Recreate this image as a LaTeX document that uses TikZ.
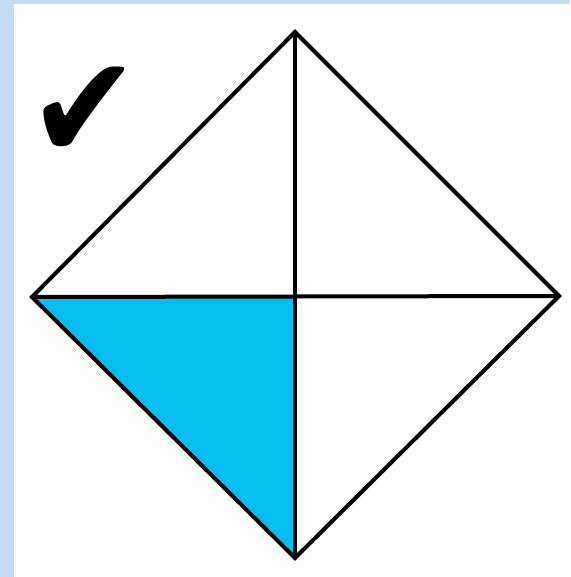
\documentclass[tikz,border=0pt]{standalone}
\usepackage{fontspec}
\usepackage{tikz}
\usetikzlibrary{positioning,calc}
\newfontfamily\symfont{DejaVu Sans}
\definecolor{myframe}{RGB}{197,220,240}
\definecolor{myfill}{RGB}{8,190,240}
\tikzset{
  edge/.style={draw=black,line width=3pt,line join=miter,line cap=round},
  part/.style={fill=myfill},
  tick/.style={font=\symfont\fontsize{100}{100}\selectfont,inner sep=0pt,
    xscale=1.0,yscale=1.1},
}
\begin{document}
\begin{tikzpicture}[x=0.75pt,y=-0.75pt]
  % frame and white sheet
  \fill[myframe] (0,0) rectangle (570,577);
  \fill[white] (14,4) rectangle (570,577);
  \useasboundingbox (0,0) rectangle (570,577);
  % corners of the square
  \coordinate (top) at (295,32);
  \coordinate (left) at (32,297);
  \coordinate (right) at (559,296);
  \coordinate (bot) at (295,558);
  \coordinate (mid) at (295,296);
  % shaded quarter
  \fill[part] (left) -- (mid) -- (bot) -- cycle;
  % outline and cross
  \draw[edge] (top) -- (right) -- (bot) -- (left) -- cycle;
  \draw[edge] (top) -- (bot);
  \draw[edge] (left) -- (right);
  % mark
  \node[tick] (ok) at (84,113) {✔};
\end{tikzpicture}
\end{document}
